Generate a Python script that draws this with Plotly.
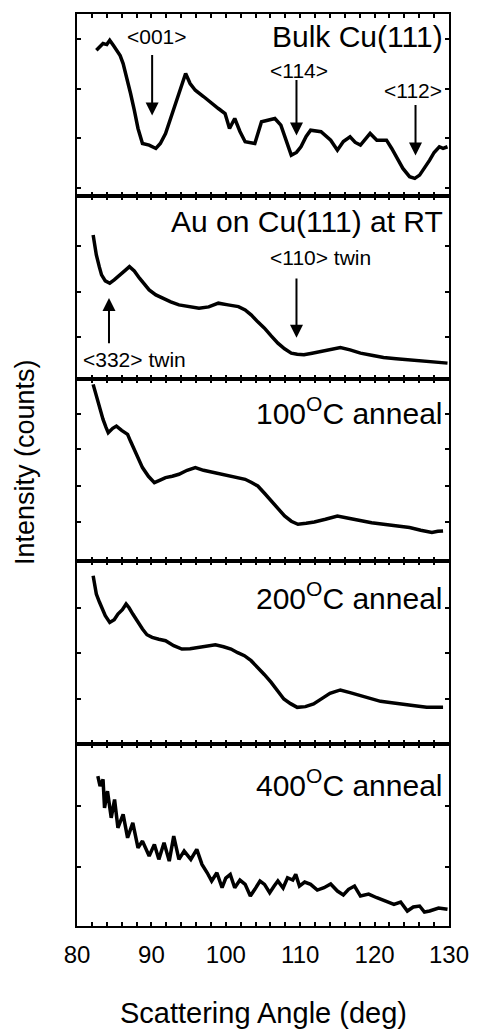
import plotly.graph_objects as go
from plotly.subplots import make_subplots

# ---- data (intensity in arbitrary units) ----
bulk_x = [82.6, 83.0, 83.5, 84.0, 84.4, 84.9, 85.3, 85.8, 86.2, 86.8, 87.2, 87.7, 88.2, 88.8,
          89.7, 90.6, 91.2, 91.9, 92.6, 93.3, 94.0, 94.6, 95.2, 95.9, 97.0, 98.1, 99.0, 99.9,
          100.5, 101.2, 101.9, 102.6, 103.9, 104.8, 105.7, 106.6, 107.4, 108.1, 108.8, 109.5,
          110.1, 110.8, 111.4, 112.8, 113.5, 114.1, 115.0, 115.8, 116.7, 117.4, 118.1, 118.8,
          119.4, 120.3, 121.6, 122.3, 122.95, 123.8, 124.7, 125.4, 126.05, 126.7, 127.4,
          128.0, 128.7, 129.2, 129.8]
bulk_y = [146.3, 149, 153, 152, 156.3, 151, 146.3, 141, 133, 116.3, 103, 86.3, 68, 53,
          51.3, 48, 53, 63, 78, 93, 110, 123, 113, 106.3, 100, 93, 88, 83,
          68, 78, 65, 54.7, 53, 74.7, 76, 78, 71.3, 55, 41.3, 44,
          49.7, 60, 66.3, 64.7, 60, 56.3, 46.3, 55, 59.7, 54, 51.3, 58,
          63, 56.3, 56.3, 48, 39.7, 28, 19.7, 18, 21.3, 28, 36.3,
          44, 49.7, 48, 49.7]

rt_x = [82.17, 82.4, 82.6, 83.0, 83.3, 83.8, 84.4, 85.0, 85.7, 86.4, 87.05, 87.7, 88.4, 89.0,
        89.7, 90.6, 91.5, 92.6, 93.7, 95.0, 96.4, 97.7, 99.0, 100.3, 101.7, 102.6, 103.4,
        104.3, 105.2, 106.1, 107.0, 107.9, 108.8, 109.6, 110.5, 111.6, 112.8, 114.1, 115.4,
        116.7, 118.1, 119.6, 121.2, 122.9, 124.7, 126.0, 127.4, 128.6, 129.8]
rt_y = [144, 134, 124, 112, 104, 98, 95.7, 99, 104, 108, 112.3, 108, 100.7, 95,
        89, 84, 80.7, 77, 74, 72, 70.7, 72, 75.7, 74, 72.3, 69, 64,
        57, 50.7, 43, 35.7, 30, 25.7, 24.5, 24, 25.5, 27.3, 29.5, 31.3,
        29, 25.7, 23.5, 21.3, 20, 19, 18, 17.3, 16.5, 15.7]

a100_x = [82.17, 82.5, 82.8, 83.2, 83.5, 83.9, 84.2, 84.8, 85.3, 86.0, 86.8, 87.2, 87.7,
          88.2, 88.8, 89.6, 90.4, 91.1, 91.9, 92.8, 93.7, 94.8, 95.9, 97.0, 98.1, 99.0,
          99.9, 101.2, 102.6, 103.4, 104.3, 105.2, 106.1, 107.0, 107.9, 108.8, 109.7,
          110.8, 111.9, 113.4, 115.0, 116.5, 118.1, 119.6, 121.2, 122.9, 124.7, 126.2,
          127.7, 128.5, 129.2]
a100_y = [177, 168, 158.7, 150, 142, 134, 128.7, 133, 135.3, 131, 127, 120, 112,
          103, 93.7, 85, 78.7, 81, 83.7, 85, 87, 91, 93.7, 91, 89.3, 88,
          87, 85, 82, 79, 75.3, 68, 60.3, 52, 45.3, 40, 37,
          38, 39.3, 42, 45.3, 43, 40.3, 38.5, 37, 35.5, 33.7, 31,
          28.7, 30, 30.3]

a200_x = [82.17, 82.4, 82.6, 83.0, 83.3, 83.8, 84.4, 85.0, 85.5, 86.1, 86.6, 87.0, 87.5,
          88.1, 88.8, 89.4, 90.1, 91.0, 91.9, 93.0, 94.1, 95.2, 96.4, 97.5, 98.6, 99.7,
          100.7, 101.6, 102.5, 103.4, 104.3, 105.2, 106.1, 107.0, 107.8, 108.7, 109.6,
          110.7, 111.8, 112.9, 114.0, 114.7, 115.4, 116.7, 118.1, 119.4, 120.8, 122.3,
          123.9, 125.4, 127.0, 128.1, 129.2]
a200_y = [168, 158, 149.7, 142, 136.3, 128, 121.3, 124, 129.7, 134, 139.7, 136, 129.7,
          122, 114.7, 109, 106.3, 104.5, 103, 98, 94.7, 95, 96.3, 98, 99, 97,
          94.7, 91, 88, 83, 76.3, 69, 61.3, 53, 44.7, 40, 36.3,
          37, 39.7, 45, 50.3, 52, 53.7, 51, 48, 45, 42.3, 41,
          39.7, 38, 36.3, 36, 36.3]

a400_x = [82.8, 83.1, 83.5, 83.7, 84.1, 84.6, 85.05, 85.5, 86.2, 86.8, 87.5, 88.2, 88.8,
          89.7, 90.4, 91.0, 91.7, 92.4, 93.0, 93.7, 94.4, 95.3, 96.1, 96.8, 97.5, 98.1,
          98.8, 99.5, 100.0, 100.6, 101.2, 101.9, 102.6, 103.3, 103.9, 104.6, 105.2,
          105.9, 106.5, 107.0, 107.7, 108.3, 109.0, 109.4, 109.9, 110.6, 111.4, 112.3,
          113.2, 114.1, 115.0, 115.8, 116.5, 117.3, 118.1, 119.2, 120.3, 121.5, 122.6,
          123.5, 124.4, 125.2, 126.05, 126.7, 127.4, 128.6, 129.8]
a400_y = [150, 140, 146.7, 118.3, 135, 108.3, 126.7, 98.3, 111.7, 88.3, 103.3, 78.3, 85,
          70, 81.7, 66.7, 83.3, 65, 90, 66.7, 75, 66.7, 76.7, 61.7, 53.3, 45,
          53.3, 38.3, 48, 51.7, 38.3, 46, 41.7, 30, 36.7, 45, 41.7,
          33.3, 40, 45, 38, 48.3, 46, 51.7, 40, 44, 41.7, 36,
          38.3, 42, 35, 31, 36.7, 40, 30, 32, 28.3, 25, 21.7,
          24, 15, 19, 20, 14, 15, 18, 16.7]

panel_labels = ["Bulk Cu(111)", "Au on Cu(111) at RT", "100<sup>O</sup>C anneal",
                "200<sup>O</sup>C anneal", "400<sup>O</sup>C anneal"]
label_y = [160, 157, 150, 148, 143]
ytick_vals = [[8, 58, 108, 158], [42, 87, 133], [39, 75, 112, 147], [45, 91, 136], [59, 120]]

# x ticks every 2 deg; labels only on the 10-deg ones
x_tickvals = list(range(80, 131, 2))
x_ticktext = [str(v) if v % 10 == 0 else "" for v in x_tickvals]

series_x = [bulk_x, rt_x, a100_x, a200_x, a400_x]
series_y = [bulk_y, rt_y, a100_y, a200_y, a400_y]

arrow_labels = ["&lt;001&gt;", "&lt;114&gt;", "&lt;112&gt;", "&lt;332&gt; twin", "&lt;110&gt; twin"]
arrow_panel = [1, 1, 1, 2, 2]
arrow_label_x = [90.8, 109.9, 125.2, 80.6, 112.7]
arrow_label_y = [160, 126, 106, 19, 121]
arrow_label_anchor = ["center", "center", "center", "left", "center"]
arrow_x = [90.1, 109.5, 125.5, 84.3, 109.5]
arrow_tail_y = [143, 118, 93, 34, 102]
arrow_head_y = [81, 61, 41, 81, 41]

FONT = "Liberation Sans, Arial, Helvetica, sans-serif"

W, H = 481, 1034
ml, mr, mt, mb = 77, 28, 13, 108
pw, ph = W - ml - mr, H - mt - mb

fig = make_subplots(rows=5, cols=1, shared_xaxes=True, vertical_spacing=0)

for i in range(5):
    fig.add_trace(go.Scatter(x=series_x[i], y=series_y[i], mode="lines",
                             line=dict(color="black", width=3.5), showlegend=False),
                  row=i + 1, col=1)
    fig.update_xaxes(range=[80, 130], showline=True, linecolor="black", linewidth=2,
                     mirror="ticks", ticks="inside", ticklen=4, tickwidth=2,
                     tickcolor="black", tickmode="array", tickvals=x_tickvals,
                     ticktext=x_ticktext, showgrid=False, zeroline=False,
                     showticklabels=(i == 4), row=i + 1, col=1)
    fig.update_yaxes(range=[0, 182.6], showline=True, linecolor="black", linewidth=2,
                     mirror="ticks", ticks="inside", ticklen=4, tickwidth=2,
                     tickcolor="black", tickvals=ytick_vals[i], showticklabels=False,
                     showgrid=False, zeroline=False, row=i + 1, col=1)
    suffix = "" if i == 0 else str(i + 1)
    fig.add_annotation(x=129.4, y=label_y[i], xref="x" + suffix, yref="y" + suffix,
                       text=panel_labels[i], showarrow=False, xanchor="right",
                       yanchor="middle", font=dict(size=30, color="black", family=FONT))

for k in range(len(arrow_labels)):
    p = arrow_panel[k]
    suffix = "" if p == 1 else str(p)
    fig.add_annotation(x=arrow_label_x[k], y=arrow_label_y[k], xref="x" + suffix,
                       yref="y" + suffix, text=arrow_labels[k], showarrow=False,
                       xanchor=arrow_label_anchor[k], yanchor="middle",
                       font=dict(size=21, color="black", family=FONT))
    fig.add_annotation(x=arrow_x[k], y=arrow_head_y[k], ax=arrow_x[k], ay=arrow_tail_y[k],
                       xref="x" + suffix, yref="y" + suffix, axref="x" + suffix,
                       ayref="y" + suffix, text="", showarrow=True, arrowhead=2,
                       arrowsize=1.3, arrowwidth=2, arrowcolor="black")

fig.update_xaxes(tickfont=dict(size=24, color="black", family=FONT), ticklabelstandoff=6,
                 row=5, col=1)

fig.add_annotation(x=(265 - ml) / pw, y=(H - mb - 1013) / ph, xref="paper", yref="paper",
                   text="Scattering Angle (deg)", showarrow=False,
                   xanchor="center", yanchor="middle",
                   font=dict(size=29, color="black", family=FONT))
fig.add_annotation(x=(24 - ml) / pw, y=(H - mb - 462) / ph, xref="paper", yref="paper",
                   text="Intensity (counts)", textangle=-90, showarrow=False,
                   xanchor="center", yanchor="middle",
                   font=dict(size=27, color="black", family=FONT))

fig.update_layout(width=W, height=H, margin=dict(l=ml, r=mr, t=mt, b=mb),
                  paper_bgcolor="white", plot_bgcolor="white",
                  font=dict(family=FONT, color="black"))

fig.write_html("out.html")
